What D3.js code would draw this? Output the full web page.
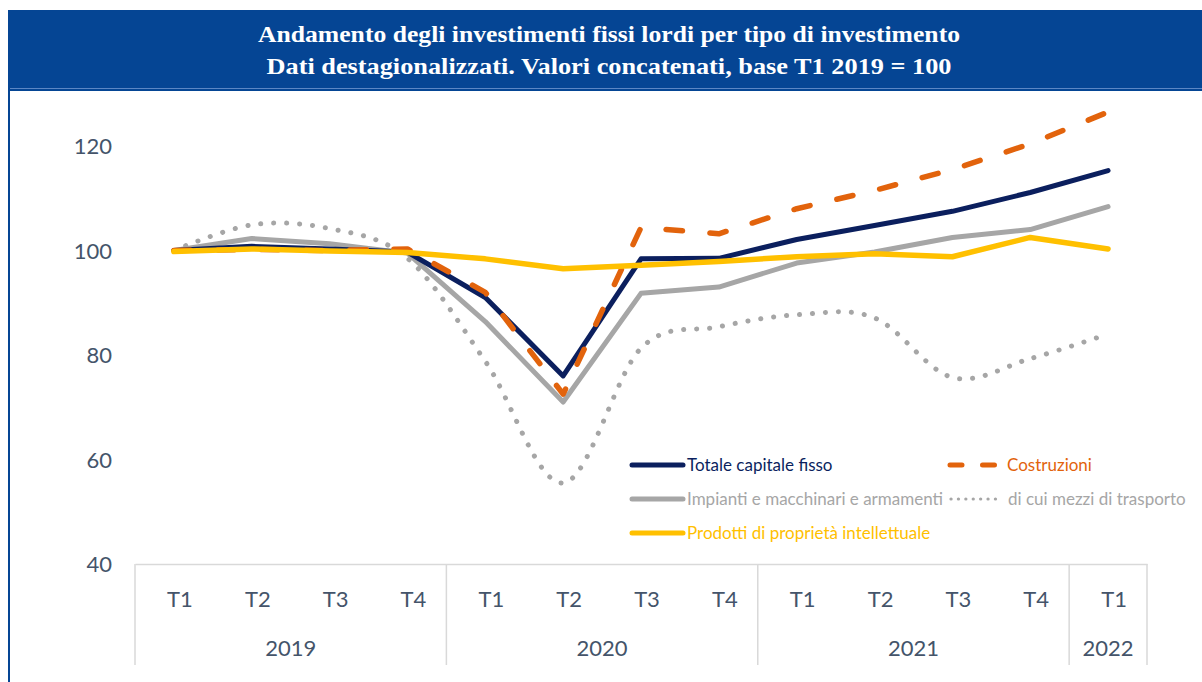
<!DOCTYPE html>
<html>
<head>
<meta charset="utf-8">
<script src="https://cdn.jsdelivr.net/npm/d3@7"></script>
<style>
  html, body { margin: 0; padding: 0; background: #fff; }
  svg { display: block; }
</style>
</head>
<body>
<svg id="chart" width="1202" height="682"></svg>
<script>
const quarters = ["T1","T2","T3","T4","T1","T2","T3","T4","T1","T2","T3","T4","T1"];
const years = ["2019","2020","2021","2022"];
const yearSpans = [4, 4, 4, 1];
const yTicks = [40, 60, 80, 100, 120];

const totale      = [100, 100.8, 100.3, 99.7, 91.0, 76.0, 98.4, 98.5, 102.1, 104.8, 107.5, 111.1, 115.3];
const costruzioni = [100, 100.2, 100.0, 100.3, 92.0, 72.5, 104.4, 103.2, 108.0, 111.5, 115.5, 120.4, 126.5];
const impianti    = [100, 102.3, 101.3, 99.5, 86.4, 71.0, 91.8, 93.0, 97.6, 99.7, 102.5, 104.0, 108.4];
const mezzi       = [100, 104.9, 104.2, 98.5, 78.8, 55.5, 81.3, 85.4, 87.7, 87.1, 75.7, 79.3, 84.0];
const prodotti    = [99.8, 100.3, 99.9, 99.6, 98.4, 96.5, 97.2, 97.9, 98.8, 99.4, 98.8, 102.5, 100.3];

const titleLines = [
  "Andamento degli investimenti fissi lordi per tipo di investimento",
  "Dati destagionalizzati. Valori concatenati, base T1 2019 = 100"
];

const seriesNames = [
  "Totale capitale fisso",
  "Costruzioni",
  "Impianti e macchinari e armamenti",
  "di cui mezzi di trasporto",
  "Prodotti di proprietà intellettuale"
];

const C = {
  navy: "#0b1f5e",
  orange: "#e2630c",
  gray: "#a6a6a6",
  yellow: "#ffc000",
  axisText: "#44546a",
  grid: "#d9d9d9",
  banner: "#054594"
};

const svg = d3.select("#chart");

// Banner
svg.append("rect").attr("x", 8).attr("y", 10).attr("width", 1194).attr("height", 81).attr("fill", C.banner);
svg.append("line").attr("x1", 8).attr("x2", 1202).attr("y1", 88.5).attr("y2", 88.5)
  .attr("stroke", "#5b86c4").attr("stroke-width", 1);
svg.append("line").attr("x1", 9).attr("x2", 9).attr("y1", 10).attr("y2", 682)
  .attr("stroke", C.banner).attr("stroke-width", 2);

const titleW = [702, 685];
titleLines.forEach((t, i) => {
  svg.append("text")
    .attr("x", 609).attr("y", 42 + i * 31.5)
    .attr("text-anchor", "middle")
    .attr("fill", "#fff")
    .attr("font-family", "'Liberation Serif', 'DejaVu Serif', serif")
    .attr("font-weight", "bold")
    .attr("font-size", 24)
    .attr("textLength", titleW[i])
    .attr("lengthAdjust", "spacingAndGlyphs")
    .text(t);
});

// Scales
const x = d3.scaleBand().domain(d3.range(quarters.length)).range([135, 1147]);
const y = d3.scaleLinear().domain([40, 120]).range([564, 146]);
const cx = i => x(i) + x.bandwidth() / 2;

// Y axis labels
const yAxis = d3.axisLeft(y).tickValues(yTicks).tickSize(0).tickPadding(0);
const yg = svg.append("g").attr("transform", "translate(112,0)").call(yAxis);
yg.select(".domain").remove();
yg.selectAll("text")
  .attr("font-family", "Lato, 'Open Sans', sans-serif")
  .attr("font-size", 22)
  .attr("fill", C.axisText)
  .attr("dy", "0.36em");

// X axis
const xAxis = d3.axisBottom(x).tickFormat(i => quarters[i]).tickSize(0).tickPadding(0);
const xg = svg.append("g").attr("transform", "translate(0,564)").call(xAxis);
xg.select(".domain").attr("stroke", C.grid).attr("stroke-width", 1.5);
xg.selectAll("text")
  .attr("font-family", "Lato, 'Open Sans', sans-serif")
  .attr("font-size", 22)
  .attr("fill", C.axisText)
  .attr("x", 6)
  .attr("y", 43)
  .attr("dy", 0);

// Year separators and labels
let start = 0;
const bounds = [0];
yearSpans.forEach(s => { start += s; bounds.push(start); });
bounds.forEach(b => {
  const bx = b < quarters.length ? x(b) : x.range()[1];
  svg.append("line").attr("x1", bx).attr("x2", bx).attr("y1", 564).attr("y2", 665)
    .attr("stroke", C.grid).attr("stroke-width", 1.5);
});
years.forEach((yr, i) => {
  const x0 = x(bounds[i]);
  const x1 = bounds[i + 1] < quarters.length ? x(bounds[i + 1]) : x.range()[1];
  svg.append("text")
    .attr("x", (x0 + x1) / 2).attr("y", 656)
    .attr("text-anchor", "middle")
    .attr("font-family", "Lato, 'Open Sans', sans-serif")
    .attr("font-size", 22)
    .attr("fill", C.axisText)
    .text(yr);
});

// Lines
const lineStraight = d3.line().x((d, i) => cx(i)).y(d => y(d));
const lineSmooth = d3.line().x((d, i) => cx(i)).y(d => y(d)).curve(d3.curveCatmullRom.alpha(0));

const g = svg.append("g").attr("fill", "none").attr("stroke-linecap", "round").attr("stroke-linejoin", "round");
g.append("path").attr("d", lineSmooth(mezzi)).attr("stroke", C.gray).attr("stroke-width", 5)
  .attr("stroke-dasharray", "0.1,12.9");
g.append("path").attr("d", lineStraight(impianti)).attr("stroke", C.gray).attr("stroke-width", 5);
g.append("path").attr("d", lineStraight(totale)).attr("stroke", C.navy).attr("stroke-width", 5);
g.append("path").attr("d", lineStraight(costruzioni)).attr("stroke", C.orange).attr("stroke-width", 5.5)
  .attr("stroke-dasharray", "16.5,27.5");
g.append("path").attr("d", lineStraight(prodotti)).attr("stroke", C.yellow).attr("stroke-width", 5.5);

// Legend
const legend = [
  { name: seriesNames[0], color: C.navy, x: 632, y: 465, w: 5, dash: null, tx: 687 },
  { name: seriesNames[1], color: C.orange, x: 950, y: 465, w: 5, dash: "12,20.5", tx: 1007 },
  { name: seriesNames[2], color: C.gray, x: 632, y: 499, w: 5, dash: null, tx: 687 },
  { name: seriesNames[3], color: C.gray, x: 951, y: 499, w: 3.2, dash: "0.1,7.3", tx: 1008 },
  { name: seriesNames[4], color: C.yellow, x: 632, y: 533, w: 5, dash: null, tx: 687 }
];
legend.forEach(l => {
  const len = l.dash ? 48 : 51;
  svg.append("line")
    .attr("x1", l.x).attr("x2", l.x + len).attr("y1", l.y).attr("y2", l.y)
    .attr("stroke", l.color).attr("stroke-width", l.w)
    .attr("stroke-linecap", "round")
    .attr("stroke-dasharray", l.dash);
  svg.append("text")
    .attr("x", l.tx).attr("y", l.y + 6)
    .attr("font-family", "Lato, 'Open Sans', sans-serif")
    .attr("font-size", 17)
    .attr("fill", l.color)
    .text(l.name);
});
</script>
</body>
</html>
